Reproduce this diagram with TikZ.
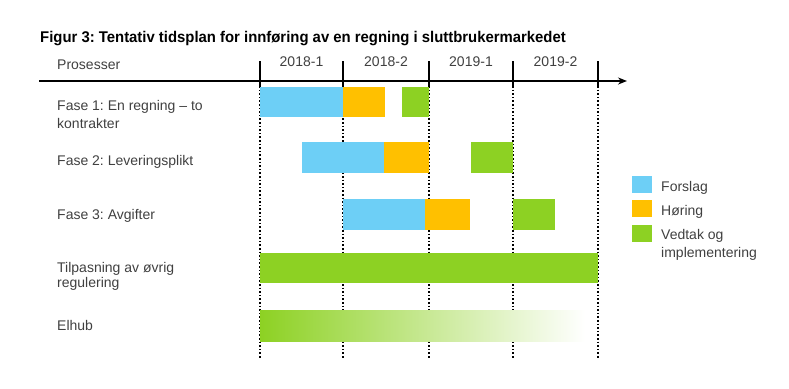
\documentclass[tikz,border=0pt]{standalone}
\usepackage{fontspec}
\setmainfont{Liberation Sans}
\newfontfamily\titlefont[FakeStretch=0.96]{Liberation Sans}
\usetikzlibrary{arrows.meta}
\frenchspacing

\definecolor{forslagblue}{HTML}{6DCFF6}
\definecolor{horingorange}{HTML}{FFC000}
\definecolor{vedtakgreen}{HTML}{8DD123}
\definecolor{labelgray}{HTML}{404040}

\tikzset{
  label/.style={anchor=base west, inner sep=0pt, text=labelgray, font=\fontsize{14}{17}\selectfont},
  period/.style={anchor=base, inner sep=0pt, text=labelgray, font=\fontsize{14}{17}\selectfont},
  forslag/.style={fill=forslagblue},
  horing/.style={fill=horingorange},
  vedtak/.style={fill=vedtakgreen},
  gridline/.style={line width=1.6pt, dash pattern=on 1.6pt off 2pt},
  tick/.style={line width=1.8pt}
}

\begin{document}
\begin{tikzpicture}[x=1pt, y=-1pt]
            \useasboundingbox (0,0) rectangle (789,388);

            % Title
            \node[anchor=base west, inner sep=0pt, font=\titlefont\bfseries\fontsize{15.5}{18}\selectfont] (title) at (40,42)
              {Figur 3: Tentativ tidsplan for innføring av en regning i sluttbrukermarkedet};

            % Axis
            \coordinate (axstart) at (39,81);
            \coordinate (axend) at (627,81);
            \draw[line width=1.8pt, -{Stealth[length=9pt, width=7pt]}] (axstart) -- (axend);

            % Dotted lines and ticks
            \foreach \x [count=\i] in {260,343,429,513,598} {
              \coordinate (top\i) at (\x,61);
              \coordinate (mid\i) at (\x,86);
              \coordinate (bot\i) at (\x,358);
              \draw[gridline] (mid\i) -- (bot\i);
              \draw[tick] (top\i) -- (mid\i);
            }

            % Periods
            \node[period] (p1) at (301.5,66) {2018-1};
            \node[period] (p2) at (386,66) {2018-2};
            \node[period] (p3) at (471,66) {2019-1};
            \node[period] (p4) at (555.5,66) {2019-2};

            % Processes
            \node[label] (pros) at (57,69) {Prosesser};
            \node[label] (fase1) at (57,110.5) {Fase 1: En regning -- to};
            \node[label] (fase1b) at (57,128) {kontrakter};
            \node[label] (fase2) at (57,165.5) {Fase 2: Leveringsplikt};
            \node[label] (fase3) at (57,219) {Fase 3: Avgifter};
            \node[label] (tilp) at (57,272) {Tilpasning av øvrig};
            \node[label] (tilpb) at (57,287) {regulering};
            \node[label] (elhub) at (57,330) {Elhub};

            % Bars
            \fill[forslag] (260,87) rectangle (343,117);
            \fill[horing] (343,87) rectangle (385,117);
            \fill[vedtak] (402,87) rectangle (429,117);

            \fill[forslag] (302,142) rectangle (384,173);
            \fill[horing] (384,142) rectangle (429,173);
            \fill[vedtak] (471,142) rectangle (513,173);

            \fill[forslag] (343,199) rectangle (425,230);
            \fill[horing] (425,199) rectangle (470,230);
            \fill[vedtak] (513,199) rectangle (555,230);

            \fill[vedtak] (260,253) rectangle (598,283);

            \shade[left color=vedtakgreen, right color=white] (260,310) rectangle (585,341);

            % Legend
            \fill[forslag] (632,176) rectangle (652,193);
            \fill[horing] (632,200) rectangle (652,217);
            \fill[vedtak] (632,225) rectangle (652,242);
            \node[label] (lforslag) at (661,191) {Forslag};
            \node[label] (lhoring) at (661,215) {Høring};
            \node[label] (lvedtak) at (661,239) {Vedtak og};
            \node[label] (lvedtakb) at (661,257) {implementering};
        \end{tikzpicture}
\end{document}
